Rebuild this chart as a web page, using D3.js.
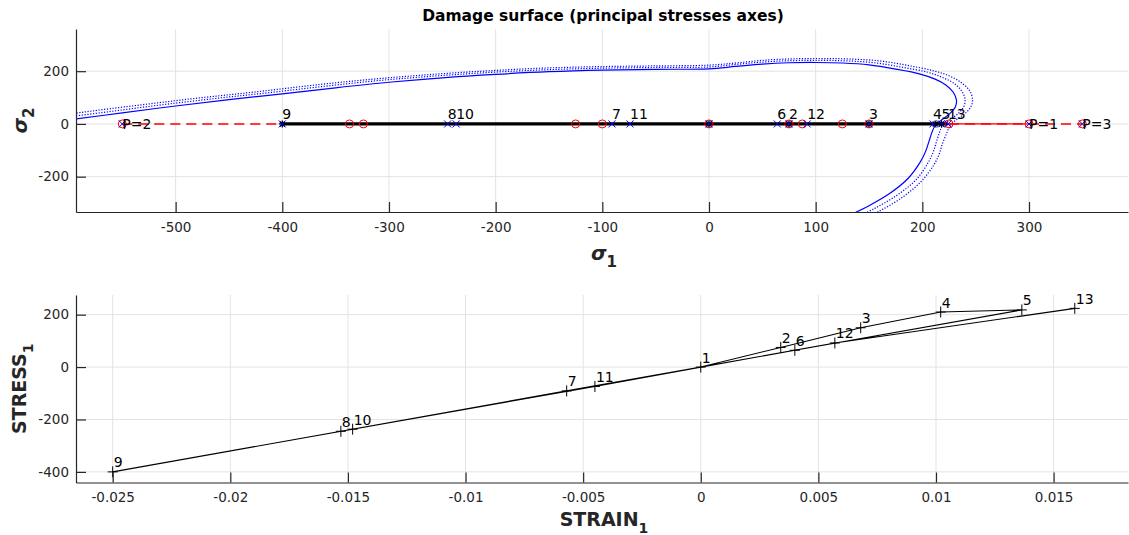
<!DOCTYPE html>
<html><head><meta charset="utf-8">
<script src="https://cdn.jsdelivr.net/npm/d3@7"></script>
<style>
body{margin:0;background:#fff}
svg{display:block}
text{font-family:"DejaVu Sans",sans-serif}
</style>
</head><body>
<svg id="c" width="1129" height="535"></svg>
<script>
// ---------- data ----------
const pointLabels = ["1","2","3","4","5","6","7","8","9","10","11","12","13"];
const stress1 = [0, 75, 150, 210, 218, 64, -91, -245, -400, -237, -74, 92, 224];
const strain1 = [0, 0.0034, 0.0068, 0.0102, 0.01365, 0.0040, -0.0057, -0.0153, -0.025, -0.0148, -0.0045, 0.0057, 0.0159];

const redCircles = [-550, -337, -324, -125, -100, 0, 75, 87.5, 125, 150, 225, 300, 350];
const blackMarks = [0, 75, 150, 212, 218, -400];
const pValues = [300, -550, 350];
const pNames = ["P=1", "P=2", "P=3"];

// damage surface (solid) and two dotted surfaces: [sigma1, sigma2]
const surfSolid = [[-593,19],[-550,42],[-500,68],[-450,92],[-400,114],[-350,137],[-300,158],[-250,175],[-200,188],[-150,198],[-100,204],[-50,207],[0,209],[25,218],[50,227],[75,232],[100,233],[125,231],[150,224],[175,208],[198,189],[212,170],[222,148],[229,120],[232,90],[231,65],[226,40],[218,15],[212,-6],[209,-32],[206,-69],[203,-105],[198,-145],[187,-205],[170,-262],[150,-310],[130,-350]];
const surfDot1 = [[-614,20],[-569,43],[-518,70],[-466,95],[-414,118],[-362,142],[-311,164],[-259,181],[-207,195],[-155,205],[-104,211],[-52,214],[0,216],[26,226],[52,235],[78,240],[104,241],[129,239],[155,232],[181,215],[205,196],[219,176],[230,153],[237,124],[240,93],[239,67],[234,41],[226,16],[219,-6],[216,-33],[213,-71],[210,-109],[205,-150],[194,-212],[176,-271],[155,-321],[135,-362]];
const surfDot2 = [[-632,20],[-586,45],[-533,72],[-479,98],[-426,121],[-373,146],[-320,168],[-266,186],[-213,200],[-160,211],[-107,217],[-53,220],[0,223],[27,232],[53,242],[80,247],[107,248],[133,246],[160,239],[186,222],[211,201],[226,181],[236,158],[244,128],[247,96],[246,69],[241,43],[232,16],[226,-6],[223,-34],[219,-73],[216,-112],[211,-154],[199,-218],[181,-279],[160,-330],[138,-373]];

const topXTicks = [-500,-400,-300,-200,-100,0,100,200,300];
const topYTicks = [-200,0,200];
const botXTicks = [-0.025,-0.02,-0.015,-0.01,-0.005,0,0.005,0.01,0.015];
const botXTickLabels = ["-0.025","-0.02","-0.015","-0.01","-0.005","0","0.005","0.01","0.015"];
const botYTicks = [-400,-200,0,200];

// ---------- layout ----------
const svg = d3.select("#c");
const AX = "#262626", GRID = "#e3e3e3";
const L = 76, R = 1128;
const T1 = 29, B1 = 212;
const T2 = 295, B2 = 482.5;

const x1 = d3.scaleLinear().domain([-593.4, 392.8]).range([L, R]);
const y1 = d3.scaleLinear().domain([-334, 360]).range([B1, T1]);
const x2 = d3.scaleLinear().domain([-0.02656, 0.018163]).range([L, R]);
const y2 = d3.scaleLinear().domain([-440.5, 275]).range([B2, T2]);

function grid(g, xs, ys, xt, yt, top, bot) {
  g.selectAll(".gx").data(xt).join("line")
    .attr("x1", d => xs(d)).attr("x2", d => xs(d)).attr("y1", top).attr("y2", bot)
    .attr("stroke", GRID).attr("stroke-width", 1);
  g.selectAll(".gy").data(yt).join("line")
    .attr("x1", L).attr("x2", R).attr("y1", d => ys(d)).attr("y2", d => ys(d))
    .attr("stroke", GRID).attr("stroke-width", 1);
}
function axes(xs, ys, xt, yt, bot, xfmt) {
  const gx = svg.append("g").attr("transform", `translate(0,${bot})`)
    .call(d3.axisBottom(xs).tickValues(xt).tickSizeInner(-10).tickSizeOuter(0).tickPadding(10).tickFormat(xfmt));
  const gy = svg.append("g").attr("transform", `translate(${L},0)`)
    .call(d3.axisLeft(ys).tickValues(yt).tickSizeInner(-10).tickSizeOuter(0).tickPadding(7).tickFormat(d => d));
  [gx, gy].forEach(g => {
    g.select(".domain").attr("stroke", AX).attr("stroke-width", 1.2);
    g.selectAll(".tick line").attr("stroke", AX).attr("stroke-width", 1.2);
    g.selectAll(".tick text").attr("fill", AX).style("font-size", "13.5px").style("font-family", "DejaVu Sans");
  });
}

// ---------- TOP PLOT ----------
const g1 = svg.append("g");
grid(g1.append("g"), x1, y1, topXTicks, topYTicks, T1, B1);

svg.append("defs").append("clipPath").attr("id", "clip1")
  .append("rect").attr("x", L).attr("y", T1).attr("width", R - L).attr("height", B1 - T1);

const line1 = d3.line().x(d => x1(d[0])).y(d => y1(d[1])).curve(d3.curveCatmullRom.alpha(0.5));
const surf = svg.append("g").attr("clip-path", "url(#clip1)");
surf.append("path").datum(surfDot2).attr("d", line1).attr("fill", "none")
  .attr("stroke", "#0000ff").attr("stroke-width", 1.2).attr("stroke-dasharray", "1.2,1.6");
surf.append("path").datum(surfDot1).attr("d", line1).attr("fill", "none")
  .attr("stroke", "#0000ff").attr("stroke-width", 1.2).attr("stroke-dasharray", "1.2,1.6");
surf.append("path").datum(surfSolid).attr("d", line1).attr("fill", "none")
  .attr("stroke", "#0000ff").attr("stroke-width", 1.2);

// red load lines from origin to P points
const y0 = y1(0);
svg.append("line").attr("x1", x1(0)).attr("x2", x1(pValues[2])).attr("y1", y0).attr("y2", y0)
  .attr("stroke", "#ff0000").attr("stroke-width", 1.4).attr("stroke-dasharray", "10,6");
svg.append("line").attr("x1", x1(pValues[1])).attr("x2", x1(0)).attr("y1", y0).attr("y2", y0)
  .attr("stroke", "#ff0000").attr("stroke-width", 1.4).attr("stroke-dasharray", "10,6");
svg.append("line").attr("x1", x1(0)).attr("x2", x1(pValues[0])).attr("y1", y0).attr("y2", y0)
  .attr("stroke", "#ff0000").attr("stroke-width", 1.2);

// stress path (black thick)
svg.append("path").datum(stress1)
  .attr("d", d3.line().x(d => x1(d)).y(() => y0))
  .attr("fill", "none").attr("stroke", "#000").attr("stroke-width", 3.2);

// red circles
svg.selectAll(".rc").data(redCircles).join("circle")
  .attr("cx", d => x1(d)).attr("cy", y0).attr("r", 4)
  .attr("fill", "none").attr("stroke", "#ff0000").attr("stroke-width", 1);

// black asterisks
const star = "M-3.5,0H3.5M0,-3.5V3.5M-2.5,-2.5L2.5,2.5M-2.5,2.5L2.5,-2.5";
svg.selectAll(".bs").data(blackMarks).join("path")
  .attr("transform", d => `translate(${x1(d)},${y0})`).attr("d", star)
  .attr("stroke", "#000").attr("stroke-width", 1.3).attr("fill", "none");

// blue x markers at path points and P points
const xm = "M-3.5,-3.5L3.5,3.5M-3.5,3.5L3.5,-3.5";
svg.selectAll(".bx").data(stress1.concat(pValues)).join("path")
  .attr("transform", d => `translate(${x1(d)},${y0})`).attr("d", xm)
  .attr("stroke", "#0000ff").attr("stroke-width", 1).attr("fill", "none");

// point labels (top, no "1")
svg.selectAll(".tl").data(stress1.map((s, i) => ({s, t: pointLabels[i]})).filter(d => d.t !== "1")).join("text")
  .attr("x", d => x1(d.s)).attr("y", y0 - 5)
  .style("font-size", "14px").attr("fill", "#000").text(d => d.t);
// P labels
svg.selectAll(".pl").data(pValues.map((v, i) => ({v, t: pNames[i]}))).join("text")
  .attr("x", d => x1(d.v)).attr("y", y0 + 5)
  .style("font-size", "14px").attr("fill", "#000").text(d => d.t);

axes(x1, y1, topXTicks, topYTicks, B1, d => d);

// title
svg.append("text").attr("x", (L + R) / 2 + 1).attr("y", 21).attr("text-anchor", "middle")
  .style("font-size", "15.5px").style("font-weight", "bold").attr("fill", "#000")
  .text("Damage surface (principal stresses axes)");

// sigma labels
const s1 = svg.append("text").attr("x", 604).attr("y", 260).attr("text-anchor", "middle")
  .style("font-weight", "bold").attr("fill", AX);
s1.append("tspan").style("font-size", "20px").style("font-style", "italic").text("σ");
s1.append("tspan").style("font-size", "15px").attr("dy", 7).text("1");

const s2 = svg.append("text").attr("transform", `translate(27,${(T1 + B1) / 2}) rotate(-90)`)
  .attr("text-anchor", "middle").style("font-weight", "bold").attr("fill", AX);
s2.append("tspan").style("font-size", "20px").style("font-style", "italic").text("σ");
s2.append("tspan").style("font-size", "15px").attr("dy", 7).text("2");

// ---------- BOTTOM PLOT ----------
const g2 = svg.append("g");
grid(g2.append("g"), x2, y2, botXTicks, botYTicks, T2, B2);

const pts = strain1.map((e, i) => ({e, s: stress1[i], t: pointLabels[i]}));
svg.append("path").datum(pts)
  .attr("d", d3.line().x(d => x2(d.e)).y(d => y2(d.s)))
  .attr("fill", "none").attr("stroke", "#000").attr("stroke-width", 1.1);
svg.selectAll(".pm").data(pts).join("path")
  .attr("transform", d => `translate(${x2(d.e)},${y2(d.s)})`).attr("d", "M-5,0H5M0,-5.5V5.5")
  .attr("stroke", "#000").attr("stroke-width", 1).attr("fill", "none");
svg.selectAll(".bl").data(pts).join("text")
  .attr("x", d => x2(d.e) + 1).attr("y", d => y2(d.s) - 4.5)
  .style("font-size", "14px").attr("fill", "#000").text(d => d.t);

axes(x2, y2, botXTicks, botYTicks, B2, (d, i) => botXTickLabels[i]);

const xl = svg.append("text").attr("x", 604).attr("y", 526).attr("text-anchor", "middle")
  .style("font-weight", "bold").attr("fill", AX);
xl.append("tspan").style("font-size", "19px").text("STRAIN");
xl.append("tspan").style("font-size", "14px").attr("dy", 7).text("1");

const yl = svg.append("text").attr("transform", `translate(26,${(T2 + B2) / 2}) rotate(-90)`)
  .attr("text-anchor", "middle").style("font-weight", "bold").attr("fill", AX);
yl.append("tspan").style("font-size", "19px").text("STRESS");
yl.append("tspan").style("font-size", "14px").attr("dy", 7).text("1");
</script>
</body></html>
